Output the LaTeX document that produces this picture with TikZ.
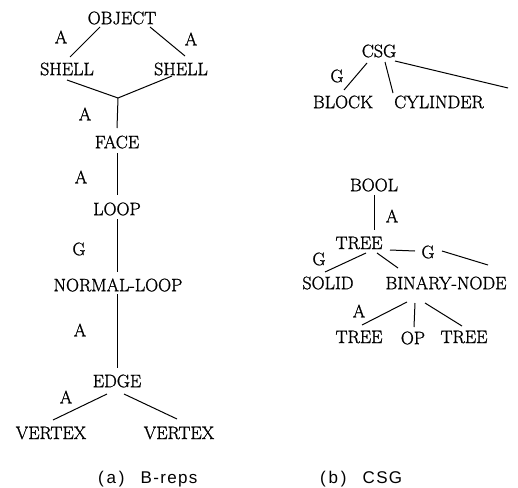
\documentclass[tikz,border=0pt]{standalone}
\usepackage{fontspec}
\newfontfamily\capfont{Liberation Sans}[LetterSpace=8]
\newfontfamily\termfont{Latin Modern Roman}[FakeBold=1.2]
\begin{document}
\begin{tikzpicture}[x=1pt,y=-1pt,
  term/.style={inner sep=0pt,font=\termfont\fontsize{18}{20}\selectfont},
  lbl/.style={inner sep=0pt,font=\termfont\fontsize{18}{20}\selectfont},
  captxt/.style={inner sep=0pt,anchor=base west,font=\capfont\fontsize{17}{20}\selectfont},
  link/.style={line width=1pt}]
\useasboundingbox (0,0) rectangle (518,487);
% ---------- (a) B-reps ----------
\node[term] (obj) at (122,18) {OBJECT};
\node[term] (shellL) at (67,69) {SHELL};
\node[term] (shellR) at (181,69) {SHELL};
\coordinate (jn) at (118,98);
\node[term] (face) at (117,142) {FACE};
\node[term] (loop) at (117,209) {LOOP};
\node[term] (nloop) at (118,285) {NORMAL-LOOP};
\node[term] (edge) at (117,381) {EDGE};
\node[term] (vL) at (51,433) {VERTEX};
\node[term] (vR) at (179,433) {VERTEX};
\node[lbl] (a1) at (61,37) {A};
\node[lbl] (a2) at (191,39) {A};
\node[lbl] (a3) at (85,114) {A};
\node[lbl] (a4) at (81,177) {A};
\node[lbl] (g1) at (79,249) {G};
\node[lbl] (a5) at (80,330) {A};
\node[lbl] (a6) at (66,397) {A};
\draw[link] ([shift={(-22,9)}]obj.center) -- ([shift={(3,-12)}]shellL.center);
\draw[link] ([shift={(28,9)}]obj.center) -- ([shift={(4,-13)}]shellR.center);
\draw[link] ([shift={(0,11)}]shellL.center) -- (jn);
\draw[link] ([shift={(-9,7)}]shellR.center) -- (jn);
\draw[link] (jn) -- ([shift={(0,-14)}]face.center);
\draw[link] ([shift={(0,11)}]face.center) -- ([shift={(0,-14)}]loop.center);
\draw[link] ([shift={(0,10)}]loop.center) -- ([shift={(-1,-13)}]nloop.center);
\draw[link] ([shift={(-1,9)}]nloop.center) -- ([shift={(0,-13)}]edge.center);
\draw[link] ([shift={(-10,13)}]edge.center) -- ([shift={(2,-13)}]vL.center);
\draw[link] ([shift={(7,13)}]edge.center) -- ([shift={(-2,-14)}]vR.center);
\node[captxt] (capa) at (98,483) {(\,a\,)\hspace{16pt}B-reps};
% ---------- (b) CSG ----------
\node[term] (csg) at (379,51) {CSG};
\node[term] (block) at (343,102) {BLOCK};
\node[term] (cyl) at (439,102) {CYLINDER};
\coordinate (csgend) at (508,88);
\node[lbl] (g2) at (337,76) {G};
\draw[link] ([shift={(-12,12)}]csg.center) -- ([shift={(1,-12)}]block.center);
\draw[link] ([shift={(6,11)}]csg.center) -- ([shift={(-46,-9)}]cyl.center);
\draw[link] ([shift={(16,10)}]csg.center) -- (csgend);
\node[term] (bool) at (374,185) {BOOL};
\node[term] (tree) at (359,243) {TREE};
\node[term] (solid) at (328,283) {SOLID};
\node[term] (bn) at (446,283) {BINARY-NODE};
\node[term] (treeL) at (359,337) {TREE};
\node[term] (op) at (413,338) {OP};
\node[term] (treeR) at (464,337) {TREE};
\coordinate (treeend) at (488,265);
\node[lbl] (a7) at (392,216) {A};
\node[lbl] (g3) at (428,252) {G};
\node[lbl] (g4) at (319,259) {G};
\node[lbl] (a8) at (359,311) {A};
\draw[link] ([shift={(0,10)}]bool.center) -- ([shift={(15,-13)}]tree.center);
\draw[link] ([shift={(31,7)}]tree.center) -- ([shift={(-13,-1)}]g3.center);
\draw[link] ([shift={(14,-1)}]g3.center) -- (treeend);
\draw[link] ([shift={(7,10)}]tree.center) -- ([shift={(-3,-11)}]solid.center);
\draw[link] ([shift={(18,10)}]tree.center) -- ([shift={(-48,-15)}]bn.center);
\draw[link] ([shift={(-39,19)}]bn.center) -- ([shift={(3,-12)}]treeL.center);
\draw[link] ([shift={(-31,20)}]bn.center) -- ([shift={(1,-11)}]op.center);
\draw[link] ([shift={(-21,20)}]bn.center) -- ([shift={(-2,-11)}]treeR.center);
\node[captxt] (capb) at (320,483) {(\,b\,)\hspace{16pt}CSG};
\end{tikzpicture}
\end{document}
